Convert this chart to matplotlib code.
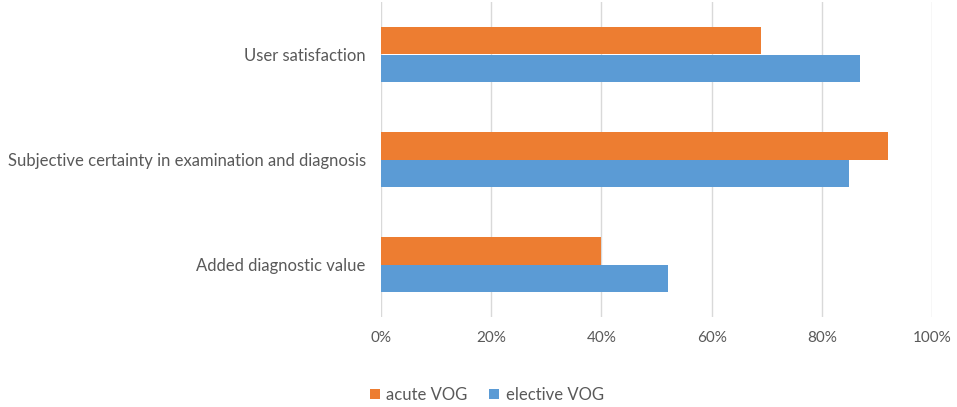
import matplotlib
matplotlib.use("Agg")
import matplotlib.pyplot as plt
import numpy as np
from matplotlib.ticker import FuncFormatter

categories = ["User satisfaction",
              "Subjective certainty in examination and diagnosis",
              "Added diagnostic value"]
acute = [69, 92, 40]
elective = [87, 85, 52]
series_names = ["acute VOG", "elective VOG"]
colors = ["#ED7D31", "#5B9BD5"]
xticks = [0, 20, 40, 60, 80, 100]

plt.rcParams['font.family'] = ['Lato', 'DejaVu Sans']

fig = plt.figure(figsize=(9.57, 4.07), dpi=100)
ax = fig.add_axes([381/957, 1 - 317/407, (932-381)/957, (317-2)/407])

y = np.arange(len(categories))
h = 0.26
ax.barh(y - h/2, acute, height=h, color=colors[0], label=series_names[0], zorder=3)
ax.barh(y + h/2, elective, height=h, color=colors[1], label=series_names[1], zorder=3)

ax.set_ylim(len(categories) - 0.5, -0.5)
ax.set_xlim(0, 100)
ax.set_yticks(y)
ax.set_yticklabels(categories, fontsize=12)
ax.set_xticks(xticks)
ax.xaxis.set_major_formatter(FuncFormatter(lambda v, p: f"{int(v)}%"))
ax.grid(axis='x', color='#D9D9D9', linewidth=1, zorder=0)
for s in ax.spines.values():
    s.set_visible(False)
ax.tick_params(axis='both', length=0, labelcolor='#595959')
ax.tick_params(axis='x', labelsize=11, pad=10)
ax.tick_params(axis='y', pad=11)

leg = fig.legend(loc='center', bbox_to_anchor=(487/957, 1 - 395/407), ncol=2,
                 frameon=False, fontsize=12, handlelength=0.6, handleheight=0.6,
                 handletextpad=0.4, columnspacing=1.3)
for t in leg.get_texts():
    t.set_color('#595959')

fig.savefig("out.png", dpi=100)
